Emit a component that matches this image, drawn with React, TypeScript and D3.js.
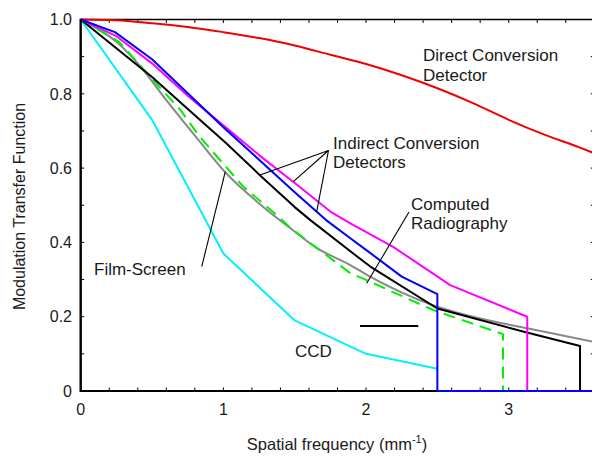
import React from "react";
import * as d3 from "d3";

type P = [number, number];

const directConversion: P[] = [[0,1],[0.25,0.998],[0.5,0.99],[0.75,0.98],[1,0.966],[1.25,0.95],[1.5,0.93],[1.75,0.905],[2,0.88],[2.25,0.85],[2.5,0.815],[2.75,0.775],[3,0.73],[3.25,0.69],[3.5,0.655],[3.6,0.64]];
const ccd: P[] = [[0,1],[0.5,0.73],[1,0.37],[1.5,0.19],[2,0.1],[2.5,0.06]];
const filmScreen: P[] = [[0,1],[0.25,0.94],[0.4,0.882],[0.6,0.783],[0.835,0.671],[1.02,0.586],[1.25,0.505],[1.47,0.438],[1.65,0.386],[1.89,0.339],[2,0.314],[2.47,0.231],[2.8,0.195],[3.13,0.169],[3.59,0.133]];
const computedRadiography: P[] = [[0,1],[0.27,0.94],[0.5,0.84],[0.7,0.756],[0.835,0.684],[1.14,0.55],[1.4,0.465],[1.47,0.439],[1.89,0.317],[2,0.299],[2.47,0.218],[2.96,0.153],[2.96,0],[3.6,0]];
const indirectBlack: P[] = [[0,1],[0.5,0.845],[0.835,0.73],[1.02,0.667],[1.256,0.581],[1.5,0.495],[1.61,0.46],[1.89,0.376],[2.03,0.335],[2.5,0.222],[3.1,0.16],[3.5,0.121],[3.5,0],[3.6,0]];
const indirectMagenta: P[] = [[0,1],[0.25,0.955],[0.5,0.882],[0.75,0.795],[1,0.715],[1.25,0.635],[1.5,0.56],[1.75,0.483],[1.89,0.451],[2.19,0.388],[2.59,0.285],[3.13,0.2],[3.13,0],[3.6,0]];
const indirectBlue: P[] = [[0,1],[0.24,0.966],[0.5,0.893],[1,0.71],[1.5,0.535],[1.72,0.46],[1.89,0.411],[2,0.38],[2.25,0.308],[2.5,0.261],[2.5,0],[3.6,0]];

const xTickLabels = [0, 1, 2, 3];
const yTickLabels = [0, 0.2, 0.4, 0.6, 0.8, 1.0];

const W = 592, H = 457;
const x = d3.scaleLinear().domain([0, 3.6]).range([80.7, 594.3]);
const y = d3.scaleLinear().domain([0, 1]).range([391, 19.5]);

const lin = d3.line<P>().x(d => x(d[0])).y(d => y(d[1]));
const smooth = d3.line<P>().x(d => x(d[0])).y(d => y(d[1])).curve(d3.curveMonotoneX);

const FONT = "'Liberation Sans', Arial, sans-serif";
const TXT = "#1a1a1a";

export default function App() {
  const xMinor = d3.range(0, 3.61, 0.2);
  const yMinor = d3.range(0, 1.001, 0.1);
  const series: { d: P[]; color: string; smooth?: boolean; dash?: string }[] = [
    { d: directConversion, color: "#f00000", smooth: true },
    { d: ccd, color: "#00f0ff" },
    { d: filmScreen, color: "#888888", smooth: true },
    { d: computedRadiography, color: "#00f000", dash: "12,7" },
    { d: indirectBlack, color: "#000000" },
    { d: indirectMagenta, color: "#ff00ff" },
    { d: indirectBlue, color: "#0000ff" },
  ];
  const ann = { stroke: "#000", strokeWidth: 1.1, fill: "none" } as const;
  return (
    <svg width={W} height={H} style={{ position: "absolute", left: 0, top: 0, background: "#fff" }} fontFamily={FONT} fill={TXT}>
      {xMinor.map((t, i) => (
        <g key={"xt" + i}>
          <line x1={x(t)} x2={x(t)} y1={y(0)} y2={y(0) - 3.5} stroke="#000" strokeWidth={1} />
          <line x1={x(t)} x2={x(t)} y1={y(1)} y2={y(1) + 3.5} stroke="#000" strokeWidth={1} />
        </g>
      ))}
      {yMinor.map((t, i) => (
        <g key={"yt" + i}>
          <line x1={x(0)} x2={x(0) + 3.5} y1={y(t)} y2={y(t)} stroke="#000" strokeWidth={1} />
          <line x1={x(3.6)} x2={x(3.6) - 3.5} y1={y(t)} y2={y(t)} stroke="#000" strokeWidth={1} />
        </g>
      ))}
      <line x1={x(0)} x2={x(3.6)} y1={y(1)} y2={y(1)} stroke="#000" strokeWidth={1.5} />
      <line x1={x(0)} x2={x(3.6)} y1={y(0)} y2={y(0)} stroke="#000" strokeWidth={2} />
      <line x1={x(3.6)} x2={x(3.6)} y1={y(0)} y2={y(1)} stroke="#000" strokeWidth={1.5} />
      {series.map((s, i) => (
        <path key={"s" + i} d={(s.smooth ? smooth : lin)(s.d) || ""} fill="none" stroke={s.color}
          strokeWidth={2} strokeDasharray={s.dash} strokeLinejoin="round" />
      ))}
      <line x1={x(0)} x2={x(0)} y1={y(0) + 1} y2={y(1) - 0.75} stroke="#000" strokeWidth={2.4} />
      {xTickLabels.map(t => (
        <text key={"xl" + t} x={x(t)} y={415} textAnchor="middle" fontSize={16}>{t}</text>
      ))}
      {yTickLabels.map(t => (
        <text key={"yl" + t} x={72} y={y(t)} dy="0.36em" textAnchor="end" fontSize={16}>
          {t === 0 ? "0" : t.toFixed(1)}
        </text>
      ))}
      <text x={337} y={450} textAnchor="middle" fontSize={16.5}>
        Spatial frequency (mm<tspan dy={-7} fontSize={11}>-1</tspan><tspan dy={7}>)</tspan>
      </text>
      <text transform="translate(25,206.5) rotate(-90)" textAnchor="middle" fontSize={16}>Modulation Transfer Function</text>
      <text x={423} y={61} fontSize={17}>Direct Conversion</text>
      <text x={423} y={80.5} fontSize={17}>Detector</text>
      <text x={333} y={149} fontSize={17}>Indirect Conversion</text>
      <text x={333} y={168} fontSize={17}>Detectors</text>
      <polyline points={`260,175 328.5,150.5 293.3,181.7`} {...ann} />
      <polyline points={`328.5,150.5 316.7,211.7`} {...ann} />
      <text x={411} y={210} fontSize={17}>Computed</text>
      <text x={411} y={229} fontSize={17}>Radiography</text>
      <line x1={409} y1={212} x2={366.7} y2={283.3} {...ann} />
      <text x={94} y={275} fontSize={17}>Film-Screen</text>
      <line x1={201.7} y1={266.7} x2={225.3} y2={171.7} {...ann} />
      <text x={295} y={357} fontSize={17}>CCD</text>
      <line x1={360} y1={326} x2={418.3} y2={326} stroke="#000" strokeWidth={2} />
    </svg>
  );
}
